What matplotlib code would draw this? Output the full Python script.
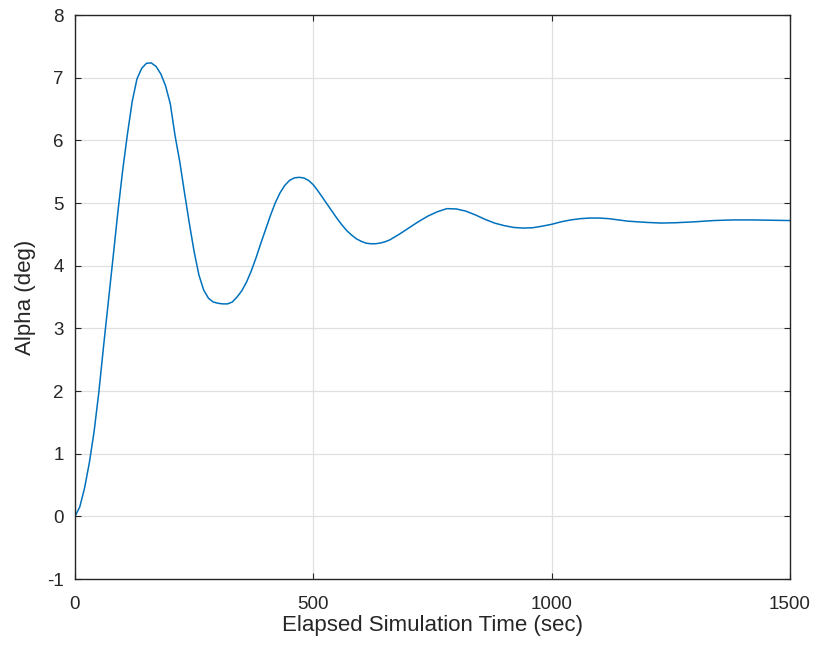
import numpy as np
import matplotlib
matplotlib.use("Agg")
import matplotlib.pyplot as plt

# valores (tempo em s, alpha em graus)
tempo = [0, 10, 20, 30, 40, 50, 60, 70, 80, 90, 100, 110, 120, 130, 140, 150,
         160, 170, 180, 190, 200, 210, 220, 230, 240, 250, 260, 270, 280, 290,
         300, 310, 320, 330, 340, 350, 360, 370, 380, 390, 400, 410, 420, 430,
         440, 450, 460, 470, 480, 490, 500, 510, 520, 530, 540, 550, 560, 570,
         580, 590, 600, 610, 620, 630, 640, 650, 660, 680, 700, 720, 740, 760,
         780, 800, 820, 840, 860, 880, 900, 920, 940, 960, 980, 1000, 1020,
         1040, 1060, 1080, 1100, 1120, 1140, 1160, 1180, 1200, 1230, 1260,
         1300, 1340, 1380, 1420, 1460, 1500]
alpha = [0.0, 0.15, 0.45, 0.85, 1.35, 1.98, 2.72, 3.43, 4.14, 4.86, 5.52,
         6.1, 6.62, 6.98, 7.15, 7.23, 7.235, 7.18, 7.06, 6.87, 6.58, 6.07,
         5.65, 5.15, 4.67, 4.22, 3.85, 3.61, 3.48, 3.42, 3.40, 3.39, 3.39,
         3.42, 3.5, 3.6, 3.74, 3.92, 4.13, 4.36, 4.58, 4.8, 5.0, 5.16, 5.28,
         5.36, 5.4, 5.41, 5.4, 5.36, 5.29, 5.19, 5.08, 4.97, 4.86, 4.75, 4.65,
         4.56, 4.49, 4.43, 4.39, 4.36, 4.35, 4.35, 4.36, 4.38, 4.41, 4.5, 4.6,
         4.7, 4.79, 4.86, 4.91, 4.905, 4.87, 4.81, 4.74, 4.68, 4.64, 4.61,
         4.6, 4.605, 4.63, 4.66, 4.7, 4.73, 4.75, 4.76, 4.76, 4.75, 4.73,
         4.71, 4.7, 4.69, 4.68, 4.685, 4.7, 4.72, 4.73, 4.73, 4.725, 4.72]

xticks = [0, 500, 1000, 1500]
yticks = list(range(-1, 9))

plt.rcParams["font.family"] = ["Liberation Sans", "DejaVu Sans"]
plt.rcParams["axes.unicode_minus"] = False
cor_eixo = "#262626"

fig = plt.figure(figsize=(8.19, 6.56), dpi=100)
ax = fig.add_axes([75 / 819, 1 - 579 / 656, (790 - 75) / 819, (579 - 15) / 656])

ax.plot(tempo, alpha, color="#0072BD", lw=1.1)

ax.set_xlim(0, 1500)
ax.set_ylim(-1, 8)
ax.set_xticks(xticks)
ax.set_yticks(yticks)
ax.grid(True, color="#e0e0e0", lw=0.9)
ax.set_axisbelow(True)

ax.tick_params(direction="in", top=True, right=True, length=4, width=0.8,
               colors=cor_eixo, labelsize=13.5)
ax.tick_params(axis="x", pad=12)
ax.tick_params(axis="y", pad=8)
for s in ax.spines.values():
    s.set_color(cor_eixo)
    s.set_linewidth(1.0)

ax.set_xlabel("Elapsed Simulation Time (sec)", fontsize=16, color=cor_eixo, va="center")
ax.set_ylabel("Alpha (deg)", fontsize=16, color=cor_eixo, va="center")
ax.xaxis.set_label_coords(0.5, (579 - 626) / 564)
ax.yaxis.set_label_coords((26 - 75) / 715, 0.5)

fig.savefig("out.png", dpi=100)
